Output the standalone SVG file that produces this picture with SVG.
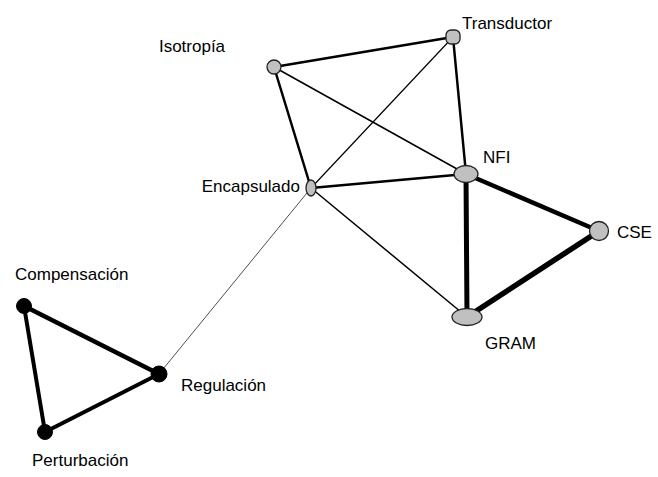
<svg xmlns="http://www.w3.org/2000/svg" width="658" height="477" viewBox="0 0 658 477">
<style>
.e{stroke:#000;fill:none;stroke-linecap:round}
.g{fill:#c0c0c0;stroke:#222;stroke-width:1.3}
.b{fill:#000;stroke:#000;stroke-width:1}
text{font-family:"Liberation Sans",Arial,sans-serif;font-size:17px;fill:#000}
</style>
<rect width="658" height="477" fill="#fff"/>
<g id="connectors">
<line class="e" x1="274" y1="67" x2="453" y2="37" stroke-width="2.5"/>
<line class="e" x1="274" y1="67" x2="311" y2="188" stroke-width="2.5"/>
<line class="e" x1="274" y1="67" x2="466" y2="174" stroke-width="1.5"/>
<line class="e" x1="453" y1="37" x2="311" y2="188" stroke-width="1.2"/>
<line class="e" x1="453" y1="37" x2="466" y2="174" stroke-width="2.5"/>
<line class="e" x1="311" y1="188" x2="466" y2="174" stroke-width="2.5"/>
<line class="e" x1="311" y1="188" x2="467" y2="317" stroke-width="1.5"/>
<line class="e" x1="311" y1="188" x2="159" y2="374" stroke-width="0.7"/>
<line class="e" x1="466" y1="174" x2="467" y2="317" stroke-width="5"/>
<line class="e" x1="466" y1="174" x2="599" y2="231" stroke-width="4.5"/>
<line class="e" x1="467" y1="317" x2="599" y2="231" stroke-width="5.5"/>
<line class="e" x1="24" y1="306" x2="159" y2="374" stroke-width="4.5"/>
<line class="e" x1="24" y1="306" x2="45" y2="432" stroke-width="4"/>
<line class="e" x1="45" y1="432" x2="159" y2="374" stroke-width="4"/>
</g>
<g id="isotropia"><circle class="g" cx="274" cy="67" r="7"/><text x="192" y="52" text-anchor="middle">Isotropía</text></g>
<g id="transductor"><rect class="g" x="446" y="30" width="14" height="14" rx="5"/><text x="462" y="29">Transductor</text></g>
<g id="encapsulado"><ellipse class="g" cx="311" cy="188" rx="5" ry="8"/><text x="300" y="192" text-anchor="end">Encapsulado</text></g>
<g id="nfi"><ellipse class="g" cx="466" cy="174" rx="12" ry="8.5"/><text x="483" y="163">NFI</text></g>
<g id="cse"><circle class="g" cx="599" cy="231" r="9.5"/><text x="617" y="238">CSE</text></g>
<g id="gram"><ellipse class="g" cx="467" cy="317" rx="15" ry="8.5"/><text x="485" y="349">GRAM</text></g>
<g id="compensacion"><circle class="b" cx="24" cy="306" r="7.5"/><text x="15" y="280">Compensación</text></g>
<g id="regulacion"><circle class="b" cx="159" cy="374" r="8"/><text x="181" y="391">Regulación</text></g>
<g id="perturbacion"><circle class="b" cx="45" cy="432" r="7.5"/><text x="32" y="466">Perturbación</text></g>
</svg>
